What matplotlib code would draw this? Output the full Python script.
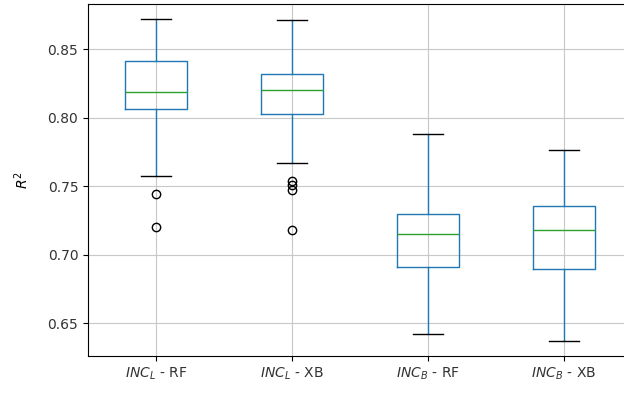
import matplotlib
matplotlib.use("Agg")
import matplotlib.pyplot as plt

# Model labels
labels = ["$INC_L$ - RF", "$INC_L$ - XB", "$INC_B$ - RF", "$INC_B$ - XB"]

# Box statistics for R^2 scores of each model
whislo = [0.7575, 0.7668, 0.6421, 0.6375]
q1 = [0.8060, 0.8025, 0.6912, 0.6897]
med = [0.8187, 0.8202, 0.7155, 0.7181]
q3 = [0.8413, 0.8319, 0.7296, 0.7356]
whishi = [0.8723, 0.8710, 0.7879, 0.7762]
fliers = [
    [0.7442, 0.7203],
    [0.7539, 0.7509, 0.7473, 0.7181],
    [],
    [],
]

stats = []
for i, lab in enumerate(labels):
    stats.append(dict(label=lab, whislo=whislo[i], q1=q1[i], med=med[i],
                      q3=q3[i], whishi=whishi[i], fliers=fliers[i]))

plt.rcParams["text.color"] = "#333333"
plt.rcParams["xtick.labelcolor"] = "#333333"
plt.rcParams["ytick.labelcolor"] = "#333333"

fig = plt.figure(figsize=(6.24, 3.94), dpi=100)
ax = fig.add_axes([88 / 624, 38 / 394, 544 / 624, 352 / 394])

ax.bxp(stats, positions=[1, 2, 3, 4], widths=0.45,
       boxprops=dict(color="C0"),
       whiskerprops=dict(color="C0"),
       medianprops=dict(color="C2"),
       capprops=dict(color="black"),
       flierprops=dict(marker="o", markerfacecolor="none",
                       markeredgecolor="black"))

ax.set_xlim(0.5, 4.5)
ax.set_ylim(0.6263, 0.8829)
ax.set_yticks([0.65, 0.70, 0.75, 0.80, 0.85])
ax.grid(True, color="#c8c8c8")
ax.set_axisbelow(True)
ax.set_ylabel("$R^2$", labelpad=12)

fig.savefig("out.png", dpi=100)
